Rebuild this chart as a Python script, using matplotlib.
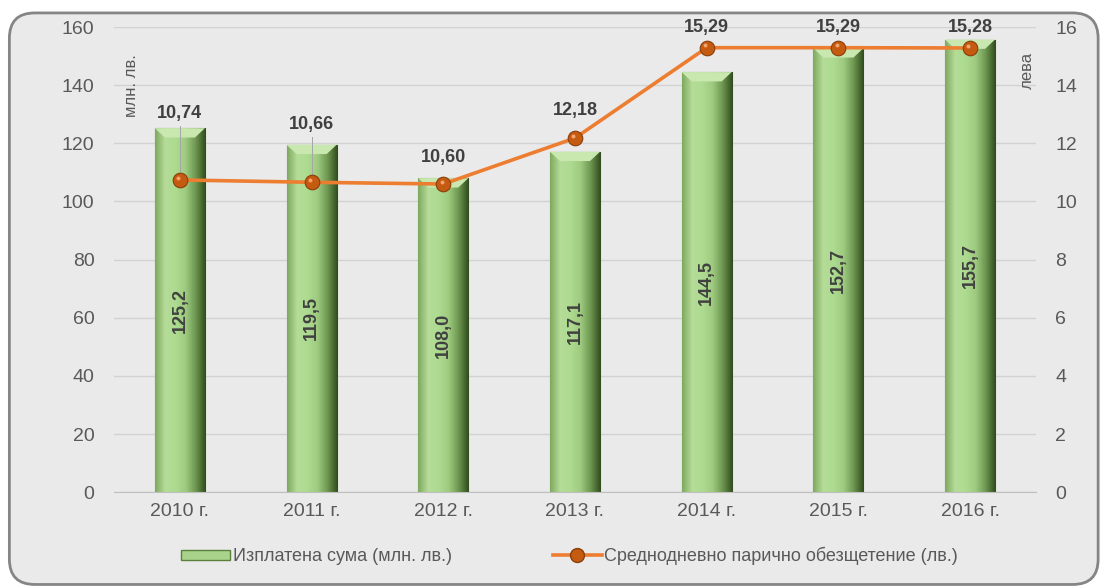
import matplotlib
matplotlib.use("Agg")
import matplotlib.pyplot as plt
import numpy as np
from matplotlib.patches import FancyBboxPatch
from matplotlib.colors import LinearSegmentedColormap
from matplotlib.lines import Line2D
from matplotlib.patches import Patch

years = ["2010 г.", "2011 г.", "2012 г.", "2013 г.", "2014 г.", "2015 г.", "2016 г."]
paid = [125.2, 119.5, 108.0, 117.1, 144.5, 152.7, 155.7]
daily = [10.74, 10.66, 10.60, 12.18, 15.29, 15.29, 15.28]
paid_labels = ["125,2", "119,5", "108,0", "117,1", "144,5", "152,7", "155,7"]
daily_labels = ["10,74", "10,66", "10,60", "12,18", "15,29", "15,29", "15,28"]
left_ticks = [0, 20, 40, 60, 80, 100, 120, 140, 160]
right_ticks = [0, 2, 4, 6, 8, 10, 12, 14, 16]
legend_labels = ["Изплатена сума (млн. лв.)", "Среднодневно парично обезщетение (лв.)"]

FONT = ["Liberation Sans", "DejaVu Sans"]
plt.rcParams['font.family'] = FONT
TXT = "#595959"
DARK = "#404040"

fig = plt.figure(figsize=(11.02, 5.88), dpi=100)
fig.patch.set_facecolor("white")
frame = FancyBboxPatch((0.0085, 0.006), 0.988, 0.972, boxstyle="round,pad=0,rounding_size=0.023",
                       transform=fig.transFigure, facecolor="#eaeaea", edgecolor="#858585",
                       linewidth=2, mutation_aspect=1102/588, zorder=-10)
fig.patches.append(frame)

ax = fig.add_axes([0.1035, 0.163, 0.8365, 0.791])
ax.set_facecolor("none")
x = np.arange(len(years))
ax.set_ylim(0, 160)
ax.set_yticks(left_ticks)
ax.yaxis.grid(True, color="#d2d2d2", linewidth=1)
ax.set_axisbelow(True)
for s in ["top", "right", "left"]:
    ax.spines[s].set_visible(False)
ax.spines["bottom"].set_color("#bfbfbf")
ax.tick_params(axis="both", length=0, labelsize=14, colors=TXT, pad=8)
ax.set_xticks(x)
ax.set_xticklabels(years)
ax.tick_params(axis="y", pad=14)

width = 0.38
bars = ax.bar(x, paid, width=width, color="#a9d38b", edgecolor="#5b7f3c", linewidth=0.8, zorder=2)
cmap = LinearSegmentedColormap.from_list("g", ["#7ea85e", "#b5dc98", "#addb90", "#9fcb80", "#6d9650", "#2f4a1c"])
grad = np.linspace(0, 1, 256).reshape(1, -1)
for b in bars:
    bx, bw, bh = b.get_x(), b.get_width(), b.get_height()
    im = ax.imshow(grad, extent=[bx, bx + bw, 0, bh], aspect="auto", cmap=cmap, zorder=2.1)
    im.set_clip_path(b)
    ax.fill([bx, bx + bw, bx + bw * 0.8, bx + bw * 0.2], [bh, bh, bh - 3.2, bh - 3.2],
            color="#c8e8b0", zorder=2.2, linewidth=0)
ax.set_xlim(-0.5, len(years) - 0.5)
ax.set_ylim(0, 160)
for xi, v, lab in zip(x, paid, paid_labels):
    ax.text(xi, v / 2, lab, rotation=90, ha="center", va="center", fontsize=13,
            fontweight="bold", color=DARK, zorder=5)

ax2 = ax.twinx()
ax2.set_ylim(0, 16)
ax2.set_yticks(right_ticks)
for s in ax2.spines.values():
    s.set_visible(False)
ax2.tick_params(axis="y", length=0, labelsize=14, colors=TXT, pad=14)
ax2.plot(x, daily, color="#ed7d31", linewidth=2.6, marker="o", markersize=10.5,
         markerfacecolor="#c55a11", markeredgecolor="#8a3e0a", markeredgewidth=0.8, zorder=4)
ax2.scatter([xi - 0.012 for xi in x], [d + 0.08 for d in daily], s=8, color="#f4a46c", zorder=5, linewidths=0)

label_offsets = [2.3, 2.0, 0.9, 0.95, 0.7, 0.7, 0.7]
for xi, d, lab, off in zip(x, daily, daily_labels, label_offsets):
    ax2.text(xi, d + off, lab, ha="center", va="center", fontsize=13, fontweight="bold",
             color=DARK, zorder=6)
    if off > 1.5:
        ax2.plot([xi, xi], [d + 0.3, d + off - 0.45], color="#a6a6a6", linewidth=0.7, zorder=3)

fig.text(0.119, 0.855, "млн. лв.", rotation=90, ha="center", va="center", fontsize=12,
         color=TXT, family=FONT)
fig.text(0.932, 0.881, "лева", rotation=90, ha="center", va="center", fontsize=12,
         color=TXT, family=FONT)

handles = [Patch(facecolor="#a9d38b", edgecolor="#5b7f3c"),
           Line2D([0], [0], color="#ed7d31", linewidth=2.6, marker="o", markersize=10,
                  markerfacecolor="#c55a11", markeredgecolor="#8a3e0a")]
leg = fig.legend(handles, legend_labels, loc="center", bbox_to_anchor=(0.517, 0.054), ncol=2,
                 frameon=False, fontsize=13, labelcolor=TXT, columnspacing=5.6,
                 handlelength=2.7, handleheight=0.55, handletextpad=0.15)

fig.savefig("out.png", dpi=100)
